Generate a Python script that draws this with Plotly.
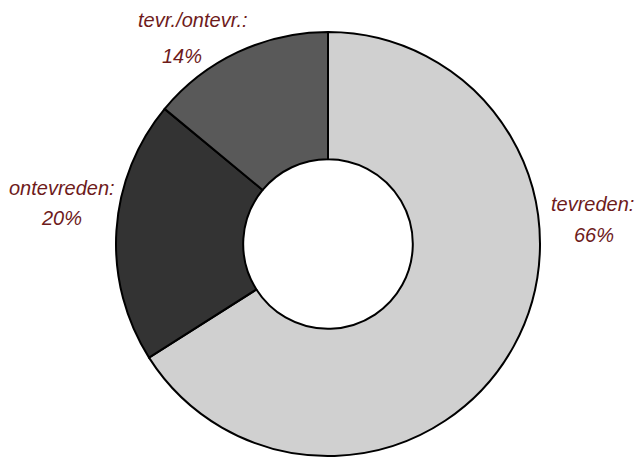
import plotly.graph_objects as go

categories = ["tevreden", "ontevreden", "tevr./ontevr."]
values = [66, 20, 14]
label_lines = [["tevreden:", "66%"], ["ontevreden:", "20%"], ["tevr./ontevr.:", "14%"]]
colors = ["#D0D0D0", "#333333", "#595959"]

W, H = 638, 460
cx, cy, R = 328, 244, 212

fig = go.Figure(go.Pie(
    labels=categories, values=values, sort=False, direction="clockwise", rotation=0,
    hole=0.40, textinfo="none", hoverinfo="label+percent",
    marker=dict(colors=colors, line=dict(color="black", width=2)),
    domain=dict(x=[(cx - R) / W, (cx + R) / W], y=[(H - cy - R) / H, (H - cy + R) / H]),
    showlegend=False,
))

# label positions (pixel centres of each text line)
label_pos = [[(592, 204), (594, 235)], [(62, 188), (62, 218)], [(193, 20), (182, 56)]]
font = dict(family="Liberation Sans, Arial, sans-serif", size=20, color="#6E1B1B")
for lines, poss in zip(label_lines, label_pos):
    for t, (px, py) in zip(lines, poss):
        fig.add_annotation(text="<i>" + t + "</i>", x=px / W, y=1 - py / H, xref="paper", yref="paper",
                           showarrow=False, font=font, xanchor="center", yanchor="middle")

fig.update_layout(width=W, height=H, margin=dict(l=0, r=0, t=0, b=0),
                  paper_bgcolor="white", plot_bgcolor="white")
fig.write_html("out.html")
